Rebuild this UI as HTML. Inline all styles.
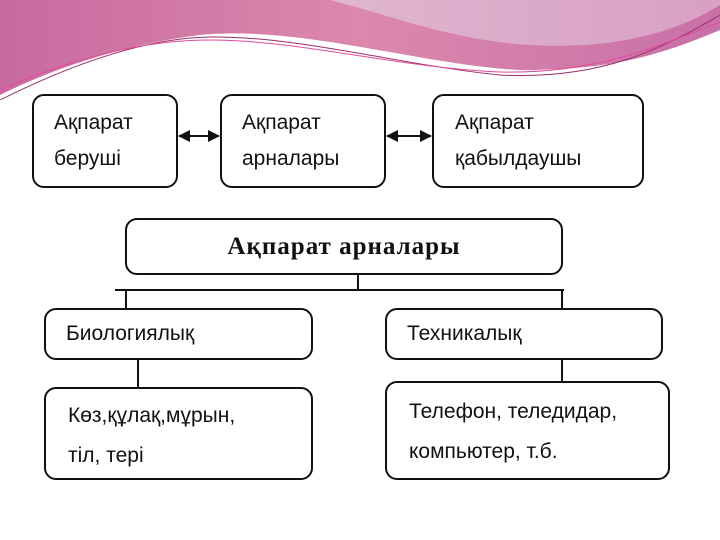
<!DOCTYPE html>
<html><head><meta charset="utf-8"><style>
body{margin:0;width:720px;height:540px;overflow:hidden;background:#fff;position:relative;font-family:"Liberation Sans","DejaVu Sans",sans-serif;}
.b{position:absolute;border:2px solid #111;border-radius:12px;background:#fff;box-sizing:border-box;font-size:21px;color:#111;line-height:36px;}
.l{position:absolute;background:#111;}
</style></head><body>
<svg width="720" height="100" style="position:absolute;left:0;top:0">
<defs>
<linearGradient id="g1" x1="0" x2="1"><stop offset="0" stop-color="#c86aa0"/><stop offset="0.5" stop-color="#dc88ad"/><stop offset="1" stop-color="#c870a8"/></linearGradient>
<linearGradient id="g2" x1="0" x2="1"><stop offset="0" stop-color="#e0b6cf"/><stop offset="1" stop-color="#d8a0c4"/></linearGradient>
</defs>
<path d="M0 0 H720 V30 C650 60 600 70 520 70 C420 65 300 25 200 35 C120 45 50 70 0 95 Z" fill="url(#g1)"/>
<path d="M330 0 H720 V5 C680 30 620 50 530 45 C450 40 390 15 330 0 Z" fill="url(#g2)"/>
<path d="M0 100 C80 60 150 38 210 37 C300 36 400 65 500 75 C600 80 660 50 720 15" fill="none" stroke="#9a2f6a" stroke-width="1"/>
<path d="M0 90 C80 55 150 40 210 40 C300 40 400 68 500 72 C600 74 660 45 720 22" fill="none" stroke="#e04c9a" stroke-width="1"/>
</svg>
<div class="b" style="left:32px;top:94px;width:146px;height:94px;padding:9px 0 0 20px">Ақпарат<br>беруші</div>
<div class="b" style="left:220px;top:94px;width:166px;height:94px;padding:9px 0 0 20px">Ақпарат<br>арналары</div>
<div class="b" style="left:432px;top:94px;width:212px;height:94px;padding:9px 0 0 21px">Ақпарат<br>қабылдаушы</div>
<svg width="720" height="200" style="position:absolute;left:0;top:100px">
<defs><marker id="a" markerWidth="12" markerHeight="12" refX="11" refY="6" orient="auto-start-reverse" markerUnits="userSpaceOnUse"><path d="M0 0 L12 6 L0 12Z" fill="#111"/></marker></defs>
<line x1="179" y1="36" x2="219" y2="36" stroke="#111" stroke-width="2" marker-start="url(#a)" marker-end="url(#a)"/>
<line x1="387" y1="36" x2="431" y2="36" stroke="#111" stroke-width="2" marker-start="url(#a)" marker-end="url(#a)"/>
</svg>
<div class="b" style="left:125px;top:218px;width:438px;height:57px;text-align:center;font-family:'Liberation Serif',serif;font-weight:bold;font-size:25px;line-height:53px;letter-spacing:1px">Ақпарат арналары</div>
<div class="l" style="left:357px;top:275px;width:2px;height:15px"></div>
<div class="l" style="left:115px;top:289px;width:449px;height:2px"></div>
<div class="l" style="left:125px;top:290px;width:2px;height:19px"></div>
<div class="l" style="left:561px;top:290px;width:2px;height:19px"></div>
<div class="b" style="left:44px;top:308px;width:269px;height:52px;padding:6px 0 0 20px">Биологиялық</div>
<div class="b" style="left:385px;top:308px;width:278px;height:52px;padding:6px 0 0 20px">Техникалық</div>
<div class="l" style="left:137px;top:360px;width:2px;height:28px"></div>
<div class="l" style="left:561px;top:360px;width:2px;height:22px"></div>
<div class="b" style="left:44px;top:387px;width:269px;height:93px;padding:7px 0 0 22px;line-height:40px">Көз,құлақ,мұрын,<br>тіл, тері</div>
<div class="b" style="left:385px;top:381px;width:285px;height:99px;padding:9px 0 0 22px;line-height:40px">Телефон, теледидар,<br>компьютер, т.б.</div>
</body></html>
